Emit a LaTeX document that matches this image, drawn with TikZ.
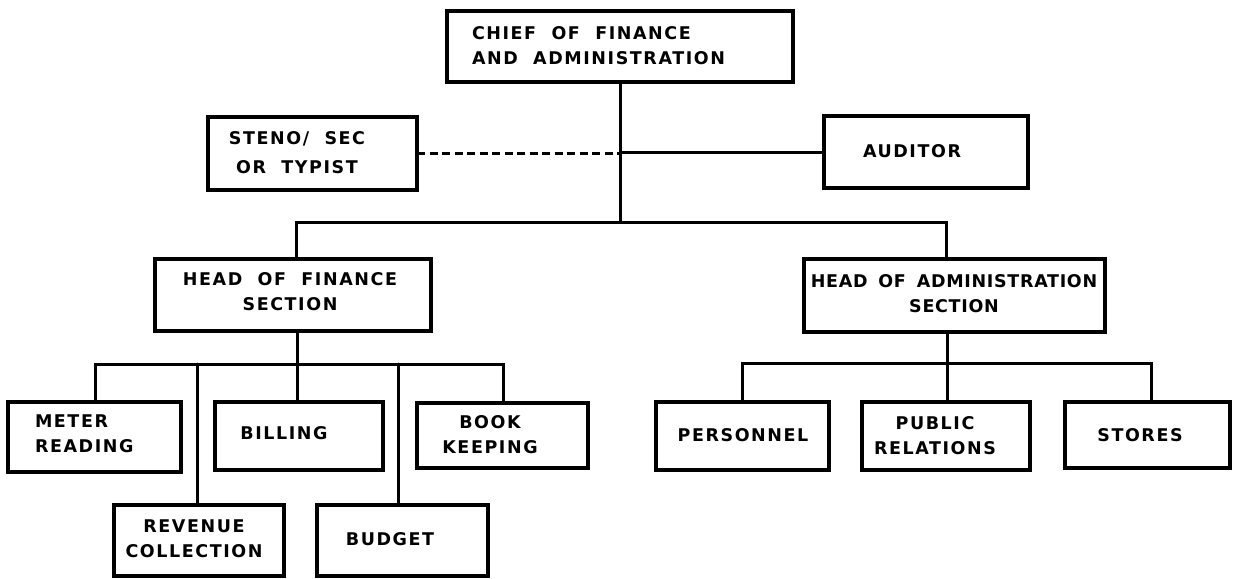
\documentclass[tikz,border=0pt]{standalone}
\usepackage{fontspec}
\newfontfamily\lettering[LetterSpace=9,WordSpace=2.0]{DejaVu Sans Bold}
\newfontfamily\tightlettering[LetterSpace=4,WordSpace=1.6]{DejaVu Sans Bold}
\begin{document}
\begin{tikzpicture}[x=1pt,y=-1pt,
  unit/.style={draw=black,line width=3.4pt,rectangle,inner sep=0pt,outer sep=0pt},
  lbl/.style={inner sep=0pt,outer sep=0pt,font=\lettering\fontsize{17.5}{25}\selectfont},
  conn/.style={line width=3pt,line cap=round,line join=miter},
  dotted link/.style={line width=3pt,dash pattern=on 8pt off 4.5pt}]
\useasboundingbox[fill=white] (0,0) rectangle (1233,578);

% ---- boxes ----
\node[unit,minimum width=346pt,minimum height=71pt] (chief)     at (620,46.5)   {};
\node[unit,minimum width=209pt,minimum height=73pt] (steno)     at (312.5,153.5){};
\node[unit,minimum width=204pt,minimum height=72pt] (auditor)   at (926,152)    {};
\node[unit,minimum width=276pt,minimum height=72pt] (headfin)   at (293,295)    {};
\node[unit,minimum width=301pt,minimum height=73pt] (headadm)   at (954.5,295.5){};
\node[unit,minimum width=173pt,minimum height=70pt] (meter)     at (94.5,437)   {};
\node[unit,minimum width=168pt,minimum height=68pt] (billing)   at (299,436)    {};
\node[unit,minimum width=171pt,minimum height=65pt] (book)      at (502.5,435.5){};
\node[unit,minimum width=170pt,minimum height=71pt] (revenue)   at (199,540.5)  {};
\node[unit,minimum width=171pt,minimum height=71pt] (budget)    at (402.5,540.5){};
\node[unit,minimum width=173pt,minimum height=68pt] (personnel) at (742.5,436)  {};
\node[unit,minimum width=168pt,minimum height=68pt] (pubrel)    at (946,436)    {};
\node[unit,minimum width=165pt,minimum height=66pt] (stores)    at (1147.5,435) {};

% ---- lettering ----
\node[lbl,anchor=west,align=left] (chief-t) at (472,45.5) {CHIEF OF FINANCE\\AND ADMINISTRATION};
\node[lbl,align=center,font=\lettering\fontsize{17.5}{29}\selectfont] (steno-t) at (297,152.5) {STENO/ SEC\\OR TYPIST};
\node[lbl] (auditor-t) at (912,151) {AUDITOR};
\node[lbl,align=center] (headfin-t) at (290,292) {HEAD OF FINANCE\\SECTION};
\node[lbl,align=center,font=\tightlettering\fontsize{17.5}{25}\selectfont] (headadm-t) at (954,293.5) {HEAD OF ADMINISTRATION\\SECTION};
\node[lbl,anchor=west,align=left] (meter-t) at (35,434) {METER\\READING};
\node[lbl] (billing-t) at (284,433.5) {BILLING};
\node[lbl,align=center] (book-t) at (490,435) {BOOK\\KEEPING};
\node[lbl,align=center] (revenue-t) at (194,539) {REVENUE\\COLLECTION};
\node[lbl] (budget-t) at (390,539.5) {BUDGET};
\node[lbl] (personnel-t) at (743,435) {PERSONNEL};
\node[lbl,align=center] (pubrel-t) at (935,435.5) {PUBLIC\\RELATIONS};
\node[lbl] (stores-t) at (1140,435) {STORES};

% ---- junction points ----
\coordinate (hb) at (620,222);
\coordinate (fj) at (296,222);
\coordinate (aj) at (946,222);
\coordinate (fdrop) at (297,364);
\coordinate (mt) at (95,364);
\coordinate (rt) at (197,364);
\coordinate (gt) at (398,364);
\coordinate (kt) at (503,364);
\coordinate (adrop) at (947,363);
\coordinate (pt) at (742,363);
\coordinate (st) at (1151,363);

% ---- top level ----
\draw[conn] (chief.south) -- (hb);
\draw[dotted link] (steno.east) -- (chief.south |- steno.east);
\draw[conn] (chief.south |- auditor.west) -- (auditor.west);
\draw[conn] (fj |- headfin.north) -- (fj) -- (aj) -- (aj |- headadm.north);

% ---- finance section ----
\draw[conn] (fdrop |- headfin.south) -- (fdrop |- billing.north);
\draw[conn] (mt |- meter.north) -- (mt) -- (kt) -- (kt |- book.north);
\draw[conn] (rt) -- (rt |- revenue.north);
\draw[conn] (gt) -- (gt |- budget.north);

% ---- administration section ----
\draw[conn] (adrop |- headadm.south) -- (adrop |- pubrel.north);
\draw[conn] (pt |- personnel.north) -- (pt) -- (st) -- (st |- stores.north);
\end{tikzpicture}
\end{document}
